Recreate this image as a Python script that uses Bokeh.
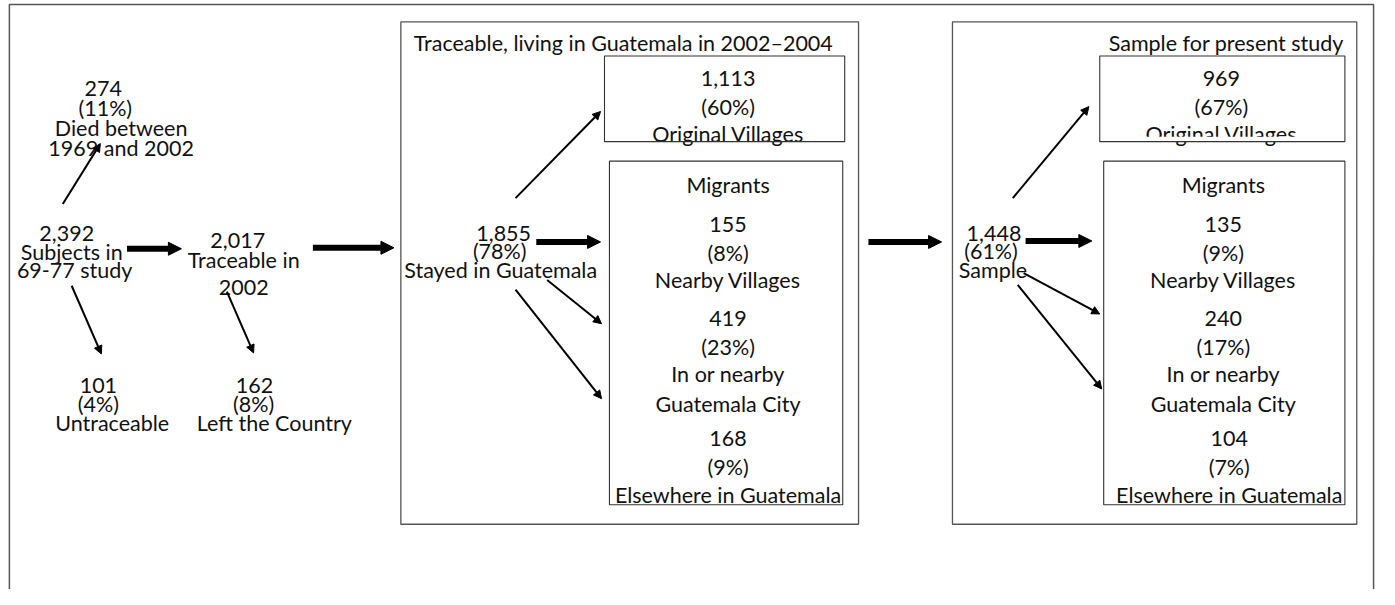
from bokeh.plotting import figure
from bokeh.models import Range1d, Arrow, NormalHead, ColumnDataSource
from bokeh.core.properties import value
from bokeh.embed import file_html
from bokeh.resources import INLINE

# ---------------- data ----------------
stage_counts = [2392, 2017, 1855, 1448]
stage_pcts = [None, None, 78, 61]
stage_labels = [["Subjects in", "69-77 study"], ["Traceable in", "2002"],
                ["Stayed in Guatemala"], ["Sample"]]
loss_counts = [274, 101, 162]
loss_pcts = [11, 4, 8]
loss_labels = [["Died between", "1969 and 2002"], ["Untraceable"], ["Left the Country"]]
destinations = [["Original Villages"], ["Nearby Villages"],
                ["In or nearby", "Guatemala City"], ["Elsewhere in Guatemala"]]
traceable_counts = [1113, 155, 419, 168]
traceable_pcts = [60, 8, 23, 9]
sample_counts = [969, 135, 240, 104]
sample_pcts = [67, 9, 17, 7]
panel_titles = ["Traceable, living in Guatemala in 2002\u20132004", "Sample for present study"]
group_label = "Migrants"

FONT = "Lato"
FS = "21.5px"

W, H = 1379, 589
p = figure(width=W, height=H, x_range=Range1d(0, 1395), y_range=Range1d(605, 0),
           min_border=0, output_backend="svg", toolbar_location=None)
p.axis.visible = False
p.grid.visible = False
p.outline_line_color = None
p.background_fill_color = "white"
p.border_fill_color = "white"

tx, ty, tt = [], [], []


def add(x, y, s):
    tx.append(x); ty.append(y); tt.append(s)


def fmt_n(n):
    return f"{n:,}"


def fmt_p(v):
    return f"({v}%)"


# ---- left part ----
add(104, 90, fmt_n(loss_counts[0])); add(106, 110, fmt_p(loss_pcts[0]))
add(122, 131, loss_labels[0][0]); add(122, 151, loss_labels[0][1])
add(67, 239, fmt_n(stage_counts[0]))
add(72, 258, stage_labels[0][0]); add(75, 277, stage_labels[0][1])
add(240, 247, fmt_n(stage_counts[1]))
add(246, 267, stage_labels[1][0]); add(246, 295, stage_labels[1][1])
add(99, 395, fmt_n(loss_counts[1])); add(99, 414, fmt_p(loss_pcts[1]))
add(113, 434, loss_labels[1][0])
add(257, 395, fmt_n(loss_counts[2])); add(256, 414, fmt_p(loss_pcts[2]))
add(277, 434, loss_labels[2][0])

add(509, 239, fmt_n(stage_counts[2])); add(505, 257, fmt_p(stage_pcts[2]))
add(506, 277, stage_labels[2][0])
add(1005, 239, fmt_n(stage_counts[3])); add(1002, 257, fmt_p(stage_pcts[3]))
add(1004, 277, stage_labels[3][0])

add(630, 44, panel_titles[0])
add(1240, 44, panel_titles[1])


def panel_text(cx_top, cx_mig, cx_last, counts, pcts):
    add(cx_top, 80, fmt_n(counts[0])); add(cx_top, 109, fmt_p(pcts[0]))
    add(cx_top, 137, destinations[0][0])
    add(cx_mig, 190, group_label)
    add(cx_mig, 230, fmt_n(counts[1])); add(cx_mig, 259, fmt_p(pcts[1]))
    add(cx_mig, 287, destinations[1][0])
    add(cx_mig, 327, fmt_n(counts[2])); add(cx_mig, 356, fmt_p(pcts[2]))
    add(cx_mig, 384, destinations[2][0]); add(cx_mig, 414, destinations[2][1])
    add(cx_last, 450, fmt_n(counts[3])); add(cx_last, 479, fmt_p(pcts[3]))
    add(cx_last, 508, destinations[3][0])


panel_text(736, 736, 736, traceable_counts, traceable_pcts)
panel_text(1235, 1237, 1243, sample_counts, sample_pcts)

src = ColumnDataSource(dict(x=tx, y=ty, text=tt))
p.text(x="x", y="y", text="text", source=src, text_font=value(FONT),
       text_font_size=FS, text_align="center", text_baseline="alphabetic",
       text_color="#111111")

# the sample panel's "Original Villages" is clipped at its bottom
p.quad(left=[1113], right=[1359], top=[140], bottom=[144.5],
       fill_color="white", line_color=None)

# ---- boxes ----
p.quad(left=[405, 963], right=[868, 1372], top=[22, 22], bottom=[538, 538],
       fill_color=None, line_color="#555555", line_width=1.3)
p.quad(left=[611, 616, 1112, 1116], right=[854, 852, 1360, 1360],
       top=[57, 165, 57, 165], bottom=[145, 518, 145, 518],
       fill_color=None, line_color="#333333", line_width=1.1)
p.line(x=[9, 9, 1389, 1389], y=[700, 4, 4, 700], line_color="#555555", line_width=1.5)

# ---- arrows ----
thin = ColumnDataSource(dict(
    x0=[63, 72, 229, 521, 553, 521, 1024, 1035, 1029],
    y0=[209, 293, 299, 203, 287, 297, 203, 280, 292],
    x1=[101, 102, 256, 607, 608, 608, 1101, 1112, 1114],
    y1=[147, 363, 362, 114, 332, 409, 109, 322, 399]))
p.add_layout(Arrow(end=NormalHead(size=8, fill_color="black", line_color="black", line_width=1),
                   x_start="x0", y_start="y0", x_end="x1", y_end="y1",
                   source=thin, line_width=2, line_color="black"))
thick = ColumnDataSource(dict(
    x0=[128, 316, 542, 878, 1037],
    y0=[255, 254, 248, 248, 247],
    x1=[183, 398, 607, 952, 1104],
    y1=[255, 254, 248, 248, 247]))
p.add_layout(Arrow(end=NormalHead(size=13, fill_color="black", line_color="black", line_width=1),
                   x_start="x0", y_start="y0", x_end="x1", y_end="y1",
                   source=thick, line_width=6, line_color="black"))

open("out.html", "w").write(file_html(p, INLINE))
